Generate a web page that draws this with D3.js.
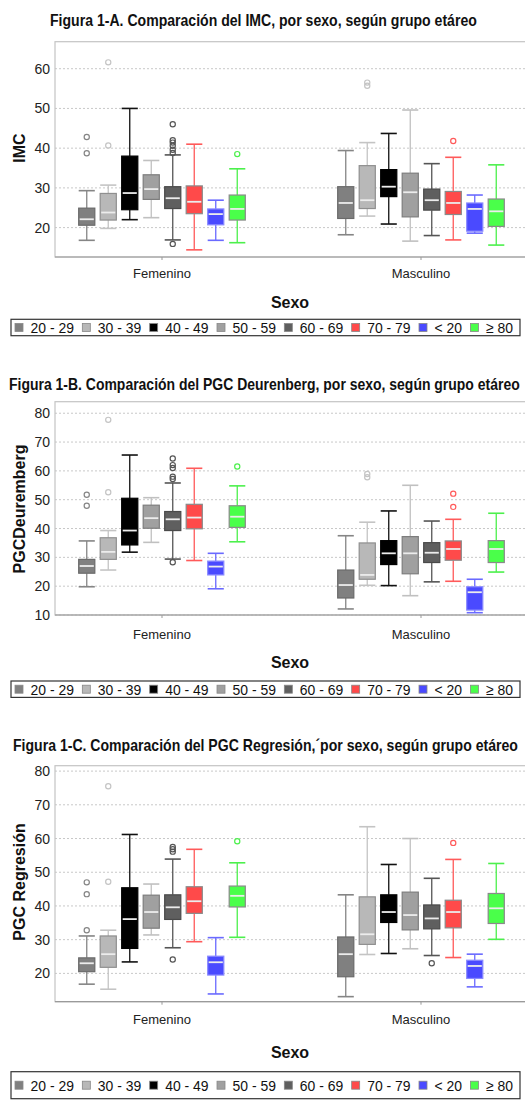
<!DOCTYPE html>
<html><head><meta charset="utf-8">
<script src="https://cdn.jsdelivr.net/npm/d3@7"></script>
<style>body{margin:0;background:#fff}svg{display:block}</style>
</head><body><svg id="c" width="525" height="1102"></svg>
<script>
// ---------- DATA ----------
const categories = ["Femenino", "Masculino"];
const series = ["20 - 29", "30 - 39", "40 - 49", "50 - 59", "60 - 69", "70 - 79", "< 20", "≥ 80"];
const yTicksA = [20, 30, 40, 50, 60];
const yTicksB = [10, 20, 30, 40, 50, 60, 70, 80];
const yTicksC = [20, 30, 40, 50, 60, 70, 80];

// [lower whisker, Q1, median, Q3, upper whisker] per series
const imcFem = [[16.8,20.6,22.1,24.9,29.3],[19.8,21.9,23.8,28.6,30.7],[22.0,24.5,28.7,38.0,50.0],[22.5,27.1,29.7,33.3,36.9],[16.9,24.8,27.4,30.3,38.3],[14.4,23.5,26.5,30.5,41.0],[16.8,20.7,23.4,24.7,26.9],[16.2,21.9,24.7,28.2,34.8]];
const imcFemOut = [[42.8,38.7],[61.6,40.7],[],[],[46.0,42.0,41.4,40.6,39.6,38.8,15.9],[],[],[38.5]];
const imcMas = [[18.2,22.3,26.2,30.3,39.4],[22.9,24.8,26.9,35.6,41.4],[20.9,27.8,30.3,34.6,43.7],[16.6,22.7,28.9,33.7,49.6],[18.0,24.4,26.9,29.7,36.1],[16.9,23.3,26.2,29.1,37.7],[18.6,19.1,24.7,26.2,28.2],[15.6,20.3,24.1,27.2,35.8]];
const imcMasOut = [[],[56.5,55.7],[],[],[],[41.8],[],[]];

const deuFem = [[19.8,24.5,27.0,29.3,35.7],[25.6,29.3,31.9,36.8,39.3],[31.8,34.3,39.3,50.5,65.5],[35.2,40.1,43.6,48.1,50.7],[29.4,39.3,43.2,45.9,55.8],[28.9,39.9,43.8,48.4,60.9],[19.1,23.9,26.8,28.7,31.4],[35.4,40.4,44.1,47.9,54.8]];
const deuFemOut = [[51.7,47.9],[77.7,52.6],[],[],[64.3,62.0,61.0,58.0,57.2,28.3],[],[],[61.5]];
const deuMas = [[12.1,15.9,20.4,25.6,37.5],[20.3,22.4,23.9,35.0,42.2],[20.2,27.5,31.4,35.8,46.1],[16.7,24.3,31.4,37.2,55.0],[21.5,28.2,31.6,35.1,42.6],[21.7,29.0,32.9,35.7,43.2],[10.8,11.7,17.9,19.8,22.4],[24.9,28.2,32.9,35.8,45.3]];
const deuMasOut = [[],[58.9,57.8],[],[],[],[52.1,47.5],[],[]];

const regFem = [[16.8,20.5,23.0,24.6,31.1],[15.3,21.8,25.7,31.1,32.8],[23.4,27.4,36.1,45.4,61.2],[31.4,33.4,38.2,43.2,46.5],[27.6,36.0,39.6,43.3,53.9],[29.4,37.8,41.4,45.7,56.8],[13.9,19.5,23.3,25.1,30.6],[30.7,39.7,43.0,45.9,52.8]];
const regFemOut = [[47.0,43.5,32.8],[75.5,47.2],[],[],[57.5,56.8,56.1,24.1],[],[],[59.2]];
const regMas = [[13.1,19.0,25.7,30.8,43.3],[25.6,28.6,31.6,42.7,63.5],[25.9,35.1,38.2,43.3,52.3],[27.3,32.9,37.3,44.1,60.0],[25.3,33.2,36.3,40.3,48.2],[24.7,33.5,38.2,41.7,53.8],[16.0,18.5,22.2,23.9,25.7],[30.1,34.8,39.3,43.7,52.6]];
const regMasOut = [[],[],[],[],[23.0],[58.7],[],[]];

// ---------- STYLE ----------
const fillColors = ["#808080","#b8b8b8","#000000","#a0a0a0","#5f5f5f","#ff4a4a","#4a4aff","#4aff4a"];
const lineColors = ["#858585","#c4c4c4","#111111","#c0c0c0","#555555","#ff5a5a","#6a6aff","#4cf04c"];
const outlineColors = ["#6a6a6a","#8f8f8f","#000000","#7d7d7d","#4a4a4a","#8a8a8a","#8a8aff","#8a8a8a"];

const svg = d3.select("#c");
svg.append("rect").attr("width",525).attr("height",1102).attr("fill","#fff");

const x = d3.scalePoint().domain(categories).range([162, 421]);
const off = d3.scaleBand().domain(series).range([-86, 86]).paddingInner(0.25).paddingOuter(0.125);

const panels = [
  {title:"Figura 1-A. Comparación del IMC, por sexo, según grupo etáreo", tx0:50, tx1:477, ty:26,
   top:41.7, bottom:257, domain:[12.6,66.8], ticks:yTicksA, ylabel:"IMC", ylabelY:148,
   catY:278, sexoY:308, legTop:319.3, legH:16.4,
   data:[imcFem, imcMas], outs:[imcFemOut, imcMasOut]},
  {title:"Figura 1-B. Comparación del PGC Deurenberg, por sexo, según grupo etáreo", tx0:9, tx1:520, ty:389.5,
   top:401.7, bottom:615, domain:[10,84], ticks:yTicksB, ylabel:"PGCDeuremberg", ylabelY:509,
   catY:638.5, sexoY:667.5, legTop:681, legH:16.4,
   data:[deuFem, deuMas], outs:[deuFemOut, deuMasOut]},
  {title:"Figura 1-C. Comparación del PGC Regresión,´por sexo, según grupo etáreo", tx0:13, tx1:518, ty:751,
   top:765.7, bottom:1001.7, domain:[11.6,81.6], ticks:yTicksC, ylabel:"PGC Regresión", ylabelY:882,
   catY:1023.5, sexoY:1058, legTop:1071.7, legH:27}
];
panels[2].data = [regFem, regMas];
panels[2].outs = [regFemOut, regMasOut];

const left = 55, right = 528;

panels.forEach((p, pi) => {
  const g = svg.append("g");
  const y = d3.scaleLinear().domain(p.domain).range([p.bottom, p.top]);

  // title (condensed horizontally with a transform)
  const tg = g.append("g");
  const tt = tg.append("text").attr("x", 0).attr("y", 0)
    .style("font-family", "'Liberation Sans Narrow','Arial Narrow','Liberation Sans',sans-serif")
    .style("font-weight", "bold").style("font-size", "16.5px").attr("fill", "#111")
    .text(p.title);
  const natural = tt.node().getComputedTextLength();
  tg.attr("transform", `translate(${p.tx0},${p.ty}) scale(${(p.tx1 - p.tx0) / natural},1)`);

  // grid
  g.selectAll(".grid").data(p.ticks).join("line")
    .attr("x1", left).attr("x2", right)
    .attr("y1", d => y(d)).attr("y2", d => y(d))
    .attr("stroke", "#c8c8c8").attr("stroke-dasharray", "2,2").attr("stroke-width", 1);

  // frame
  g.append("rect").attr("x", left).attr("y", p.top).attr("width", right - left).attr("height", p.bottom - p.top)
    .attr("fill", "none").attr("stroke", "#c4c4c4").attr("stroke-width", 1.2);
  g.append("line").attr("x1", left).attr("x2", right).attr("y1", p.bottom).attr("y2", p.bottom)
    .attr("stroke", "#9a9a9a").attr("stroke-width", 1.2);

  // y ticks
  g.selectAll(".yt").data(p.ticks).join("text")
    .attr("x", 50).attr("y", d => y(d) + 5).attr("text-anchor", "end")
    .style("font-family", "'Liberation Sans',Arial,sans-serif").style("font-size", "14px").attr("fill", "#222")
    .text(d => d);

  // y label
  g.append("text").attr("transform", `translate(25,${p.ylabelY}) rotate(-90)`).attr("text-anchor", "middle")
    .style("font-family", "'Liberation Sans',Arial,sans-serif").style("font-weight", "bold").style("font-size", "16px")
    .attr("fill", "#111").text(p.ylabel);

  // category ticks + labels
  g.selectAll(".ct").data(categories).join("line")
    .attr("x1", d => x(d)).attr("x2", d => x(d)).attr("y1", p.bottom).attr("y2", p.bottom + 3)
    .attr("stroke", "#999");
  g.selectAll(".cl").data(categories).join("text")
    .attr("x", d => x(d)).attr("y", p.catY).attr("text-anchor", "middle")
    .style("font-family", "'Liberation Sans',Arial,sans-serif").style("font-size", "13px").attr("fill", "#222")
    .text(d => d);
  g.append("text").attr("x", 290).attr("y", p.sexoY).attr("text-anchor", "middle")
    .style("font-family", "'Liberation Sans Narrow','Liberation Sans',Arial,sans-serif").style("font-weight", "bold").style("font-size", "16px")
    .attr("fill", "#111").text("Sexo");

  // boxes
  const bw = off.bandwidth();
  categories.forEach((cat, ci) => {
    series.forEach((s, si) => {
      const v = p.data[ci][si];
      const cx = x(cat) + off(s) + bw / 2;
      const bg = g.append("g");
      const lc = lineColors[si];
      bg.append("line").attr("x1", cx).attr("x2", cx).attr("y1", y(v[0])).attr("y2", y(v[1])).attr("stroke", lc).attr("stroke-width", 1.3);
      bg.append("line").attr("x1", cx).attr("x2", cx).attr("y1", y(v[3])).attr("y2", y(v[4])).attr("stroke", lc).attr("stroke-width", 1.3);
      [v[0], v[4]].forEach(w => {
        bg.append("line").attr("x1", cx - bw / 2).attr("x2", cx + bw / 2).attr("y1", y(w)).attr("y2", y(w))
          .attr("stroke", lc).attr("stroke-width", 1.6);
      });
      bg.append("rect").attr("x", cx - bw / 2).attr("y", y(v[3])).attr("width", bw).attr("height", y(v[1]) - y(v[3]))
        .attr("fill", fillColors[si]).attr("stroke", outlineColors[si]).attr("stroke-width", 1.2);
      bg.append("line").attr("x1", cx - bw / 2 + 1).attr("x2", cx + bw / 2 - 1).attr("y1", y(v[2])).attr("y2", y(v[2]))
        .attr("stroke", "#ececec").attr("stroke-width", 1.8);
      p.outs[ci][si].forEach(o => {
        bg.append("circle").attr("cx", cx).attr("cy", y(o)).attr("r", 2.6)
          .attr("fill", "none").attr("stroke", si === 2 ? "#555" : lc).attr("stroke-width", 1.2);
      });
    });
  });

  // legend
  const lg = g.append("g");
  lg.append("rect").attr("x", 11).attr("y", p.legTop).attr("width", 509).attr("height", p.legH)
    .attr("fill", "#fff").attr("stroke", "#333").attr("stroke-width", 1.2);
  const cy = p.legTop + p.legH / 2;
  const items = series.map(s => {
    const ig = lg.append("g");
    const t = ig.append("text").attr("x", 0).attr("y", 0)
      .style("font-family", "'Liberation Sans',Arial,sans-serif").style("font-size", "15.5px").attr("fill", "#111")
      .text(s);
    return {ig, w: t.node().getComputedTextLength()};
  });
  const sx = 0.9;
  const used = d3.sum(items, d => d.w * sx) + series.length * 15.5;
  const gap = (513 - 15 - used) / (series.length - 1);
  let cursor = 15;
  series.forEach((s, si) => {
    lg.append("rect").attr("x", cursor).attr("y", cy - 4).attr("width", 8).attr("height", 8)
      .attr("fill", fillColors[si]).attr("stroke", "#888").attr("stroke-width", 0.8);
    items[si].ig.attr("transform", `translate(${cursor + 15.5},${cy + 5.5}) scale(${sx},1)`);
    cursor = cursor + 15.5 + items[si].w * sx + gap;
  });
});
</script></body></html>
